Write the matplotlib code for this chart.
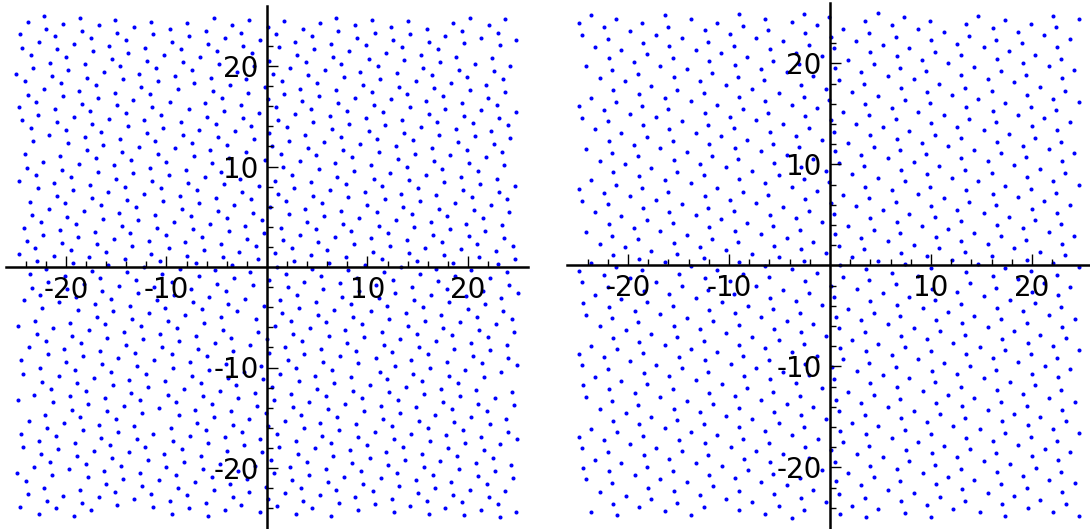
#!/usr/bin/env python3
import matplotlib
matplotlib.use("Agg")
import matplotlib.pyplot as plt

W, H = 1090, 529

# points, (x, y) in plot units, one list per quadrant
LEFT_UL = [
(-22.2,25.0),(-23.8,24.4),(-18.6,24.8),(-20.3,24.2),(-15.1,24.6),(-16.7,24.1),(-11.5,24.4),(-13.2,23.9),(-8.0,24.3),(-9.7,23.7),(-5.3,24.8),(-3.5,24.1),(-1.8,24.6),(0.1,23.9),
(-22.0,23.7),(-24.6,23.2),(-18.4,23.5),(-21.1,23.0),(-14.9,23.3),(-17.5,22.8),(-11.3,23.2),(-14.0,22.6),(-7.8,23.0),(-6.1,23.5),(-2.6,23.3),(-4.2,22.8),(-0.7,22.6),
(-22.7,22.4),(-19.2,22.2),(-15.7,22.0),(-12.1,21.8),(-9.5,22.4),(-5.9,22.2),(-2.4,22.0),(-24.4,21.8),(-20.9,21.7),(-17.3,21.5),(-13.8,21.3),(-8.6,21.7),(-5.0,21.5),(-1.5,21.3),
(-23.5,21.1),(-20.0,20.9),(-15.4,20.7),(-10.2,21.1),(-6.7,20.9),(-11.9,20.5),(-8.4,20.4),(-4.8,20.2),(-1.3,20.0),(0.2,20.5),(-21.6,20.3),(-18.1,20.2),(-14.6,20.0),(-23.3,19.8),(-19.8,19.6),(-16.2,19.4),(-11.0,19.8),(-7.5,19.6),(-12.7,19.2),(-9.2,19.0),(-5.6,18.8),(-3.0,19.4),(-2.1,18.7),
(-25.0,19.2),(-21.4,19.0),(-17.9,18.8),(-14.3,18.7),(-24.1,18.5),(-20.5,18.3),(-10.8,18.5),(-7.3,18.3),(-3.7,18.1),(-0.2,17.9),(-17.0,18.1),(-12.5,17.9),(-22.2,17.7),(-18.7,17.5),(-8.9,17.7),(-5.4,17.5),(-1.9,17.3),(-15.1,17.3),(-23.8,17.1),(-20.3,17.0),(-11.6,17.2),(-16.8,16.8),(-13.3,16.6),(-4.5,16.8),(0.1,16.7),
(-23.0,16.4),(-18.4,16.2),(-9.7,16.4),(-6.2,16.3),(-2.6,16.1),(-24.7,15.9),(-21.1,15.7),(-14.9,16.1),(-11.4,15.9),(-7.8,15.7),(-17.6,15.5),(-14.0,15.3),(-4.3,15.5),(-0.8,15.3),(-22.8,15.1),(-19.2,14.9),(-10.5,15.1),(-6.0,14.9),(-24.4,14.6),(-15.7,14.7),(-12.2,14.6),(-20.9,14.4),(-8.6,14.4),(-2.4,14.8),(-17.4,14.2),(-5.1,14.2),(-13.8,14.0),(-1.6,14.0),
(-23.5,13.8),(-20.0,13.6),(-10.3,13.8),(-6.8,13.6),(-16.5,13.4),(-11.9,13.3),(-3.2,13.5),(0.2,13.3),(-21.7,13.1),(-18.1,12.9),(-8.4,13.1),(-4.9,12.9),(-14.6,12.7),(-11.1,12.5),(-1.3,12.7),(-23.3,12.5),(-19.8,12.3),(-7.5,12.3),(-16.3,12.1),(-4.0,12.1),(-12.7,11.9),(-9.2,11.8),(-5.7,11.6),(-17.9,11.6),(-2.1,11.4),(-14.4,11.4),
(-24.1,11.2),(-20.6,11.0),(-10.8,11.2),(-7.3,11.0),(-17.0,10.8),(-3.8,10.8),(-0.2,10.6),(-13.5,10.6),(-22.3,10.4),(-10.0,10.4),(-18.7,10.2),(-5.5,10.3),(-15.2,10.1),(-23.9,9.9),(-20.4,9.7),(-11.6,9.9),(-8.1,9.7),(-16.8,9.5),(-4.6,9.5),(-13.3,9.4),(-23.0,9.2),(-19.5,9.0),(-9.8,9.2),(-6.2,9.0),(-2.7,8.8),(-15.0,8.8),
(-24.7,8.6),(-21.2,8.4),(-11.4,8.6),(-7.9,8.4),(-17.6,8.2),(-4.3,8.3),(-0.8,8.1),(-14.1,8.0),(-22.8,7.9),(-19.3,7.7),(-10.5,7.9),(-7.0,7.7),(-15.8,7.5),(-12.2,7.3),(-2.5,7.5),(-20.9,7.1),(-17.4,6.9),(-8.7,7.1),(-5.1,6.9),(-13.9,6.7),(-1.6,6.8),(-23.6,6.5),(-20.1,6.4),(-10.3,6.6),(-6.8,6.4),(-16.5,6.2),(-3.3,6.2),(-13.0,6.0),
(-21.7,5.8),(-18.2,5.6),(-8.5,5.8),(-4.9,5.6),(-14.7,5.4),(-1.4,5.4),(-23.4,5.2),(-19.9,5.0),(-11.1,5.2),(-7.6,5.1),(-16.3,4.8),(-4.0,4.9),(-0.5,4.7),(-22.5,4.5),(-19.0,4.3),(-12.8,4.7),(-9.3,4.5),(-5.7,4.3),(-14.4,4.1),(-2.2,4.1),(-24.2,3.9),(-20.6,3.7),(-10.9,3.9),(-7.4,3.8),(-17.1,3.5),(-13.6,3.4),(-3.8,3.6),(-0.3,3.4),
(-22.3,3.2),(-18.8,3.0),(-10.0,3.2),(-6.5,3.0),(-15.2,2.8),(-2.0,2.8),(-23.9,2.6),(-20.4,2.4),(-11.7,2.6),(-8.2,2.5),(-16.9,2.3),(-4.6,2.3),(-13.4,2.1),(-1.1,2.1),(-23.1,1.9),(-19.5,1.7),(-9.8,1.9),(-6.3,1.7),(-16.0,1.5),(-2.8,1.5),(-24.7,1.3),(-21.2,1.1),(-11.5,1.3),(-8.0,1.1),(-17.7,1.0),(-4.4,1.0),(-14.1,0.8),(-0.9,0.8),(-22.9,0.6),(-19.3,0.4),(-10.6,0.6),(-7.1,0.4),(-15.8,0.2),(-3.5,0.2),
]
LEFT_UR = [
(1.7,24.5),(5.3,24.3),(6.9,24.8),(10.4,24.6),(8.8,24.1),(14.0,24.5),(12.3,23.9),(18.5,24.3),(20.2,24.8),(22.1,24.1),(23.7,24.7),(3.6,23.7),(15.9,23.7),(19.4,23.5),(23.0,23.3),(0.9,23.2),(4.5,23.0),(7.1,23.5),(10.7,23.3),(14.2,23.2),(17.7,23.0),(9.0,22.8),(21.3,22.8),(24.8,22.6),
(2.8,22.4),(6.4,22.2),(12.5,22.6),(16.1,22.4),(19.6,22.3),(23.2,22.1),(9.9,22.1),(13.4,21.9),(1.2,21.9),(4.7,21.7),(17.0,21.7),(8.2,21.5),(11.8,21.3),(15.3,21.1),(3.0,21.1),(6.6,20.9),(18.8,20.9),(22.4,20.8),(10.1,20.7),(13.6,20.6),(3.9,20.4),(17.2,20.4),(20.7,20.2),(7.4,20.2),(24.2,20.0),(11.0,20.0),
(2.3,19.8),(15.5,19.8),(5.8,19.6),(19.1,19.6),(9.3,19.4),(22.6,19.5),(12.9,19.3),(0.6,19.2),(16.4,19.1),(4.1,19.1),(19.9,18.9),(7.7,18.9),(23.5,18.7),(11.2,18.7),(1.5,18.5),(14.8,18.5),(5.0,18.3),(18.3,18.3),(21.8,18.1),(9.6,18.1),(13.1,17.9),(3.3,17.7),(16.6,17.8),(6.9,17.6),(20.2,17.6),(10.4,17.4),(23.7,17.4),
(1.7,17.2),(13.9,17.2),(5.2,17.0),(17.5,17.0),(8.8,16.8),(22.0,16.8),(12.3,16.7),(3.5,16.5),(15.8,16.5),(7.1,16.3),(19.4,16.3),(22.9,16.1),(10.6,16.1),(0.9,15.9),(14.2,15.9),(4.4,15.7),(17.7,15.7),(8.0,15.5),(21.3,15.6),(24.8,15.4),(11.5,15.4),(2.8,15.2),(16.1,15.2),(6.3,15.0),(19.6,15.0),(9.9,14.8),(23.1,14.8),
(1.1,14.6),(13.4,14.6),(4.6,14.4),(16.9,14.4),(8.2,14.2),(20.5,14.3),(11.7,14.1),(24.0,14.1),(2.0,13.9),(15.3,13.9),(18.8,13.7),(6.5,13.7),(10.1,13.5),(22.3,13.5),(13.6,13.3),(3.8,13.1),(17.1,13.1),(7.4,12.9),(20.7,13.0),(10.9,12.7),(24.2,12.8),(2.2,12.5),(14.5,12.6),(5.7,12.4),(19.0,12.4),(9.3,12.2),(22.6,12.2),
(12.8,12.0),(0.5,12.0),(16.4,11.8),(4.1,11.8),(19.9,11.6),(7.6,11.6),(23.4,11.4),(11.1,11.4),(1.4,11.2),(14.7,11.2),(4.9,11.1),(18.2,11.1),(21.8,10.9),(8.5,10.9),(13.0,10.7),(3.3,10.5),(16.6,10.5),(6.8,10.3),(20.1,10.3),(10.3,10.1),(23.6,10.1),(1.6,10.0),(13.9,10.0),(5.2,9.8),(17.4,9.8),(8.7,9.6),(21.0,9.6),(12.2,9.4),(2.5,9.2),(15.8,9.2),
(7.0,9.0),(19.3,9.0),(22.9,8.8),(10.6,8.8),(0.8,8.6),(14.1,8.7),(4.4,8.5),(17.6,8.5),(7.9,8.3),(21.2,8.3),(24.7,8.1),(11.4,8.1),(2.7,7.9),(15.0,7.9),(6.3,7.7),(19.5,7.7),(9.8,7.5),(23.1,7.5),(13.3,7.3),(1.1,7.3),(4.6,7.1),(16.8,7.2),(20.4,7.0),(8.1,7.0),(11.7,6.8),(23.9,6.8),(1.9,6.6),(15.2,6.6),(5.5,6.4),(18.7,6.4),(10.0,6.2),(22.3,6.2),(13.5,6.0),(0.3,6.0),
(3.8,5.8),(17.1,5.8),(7.4,5.6),(20.6,5.7),(24.1,5.5),(10.9,5.5),(2.2,5.3),(14.4,5.3),(5.7,5.1),(17.9,5.1),(9.2,4.9),(21.5,4.9),(12.8,4.7),(4.0,4.5),(16.3,4.5),(7.6,4.3),(19.8,4.3),(23.4,4.2),(11.1,4.1),(14.6,4.0),(1.4,3.9),(4.9,3.8),(18.2,3.8),(21.7,3.6),(8.4,3.6),(12.0,3.4),
(3.3,3.2),(16.5,3.2),(6.8,3.0),(20.1,3.1),(23.6,2.9),(10.3,2.9),(1.6,2.7),(13.9,2.7),(5.1,2.5),(17.4,2.5),(8.7,2.3),(20.9,2.3),(24.5,2.1),(12.2,2.1),(2.5,1.9),(15.7,1.9),(6.0,1.7),(19.3,1.8),(22.8,1.6),(10.5,1.5),(0.8,1.4),(14.1,1.4),(4.4,1.2),(17.6,1.2),(7.9,1.0),(21.1,1.0),(24.7,0.8),(11.4,0.8),(2.7,0.6),(14.9,0.6),(6.2,0.4),(18.5,0.4),(9.8,0.2),(23.0,0.3),
]
LEFT_LL = [
(-22.0,-0.2),(-17.4,-0.4),(-12.2,0.0),(-8.7,-0.2),(-5.2,-0.3),(-23.6,-0.7),(-20.1,-0.9),(-13.9,-0.5),(-10.4,-0.7),(-16.6,-1.1),(-13.0,-1.3),(-6.8,-0.9),(-3.3,-1.1),(-1.7,-0.5),(0.2,-1.3),(-21.8,-1.5),(-18.2,-1.7),(-9.5,-1.5),(-5.0,-1.7),(-14.7,-1.9),(-11.2,-2.0),(-1.4,-1.8),(-23.4,-2.1),(-19.9,-2.2),(-7.6,-2.2),(-4.1,-2.4),(-16.4,-2.4),(-12.8,-2.6),
(-22.6,-2.8),(-19.0,-3.0),(-9.3,-2.8),(-5.8,-3.0),(-2.2,-3.2),(-15.5,-3.2),(-24.2,-3.3),(-10.9,-3.3),(-20.7,-3.5),(-7.4,-3.5),(-17.1,-3.7),(-3.9,-3.7),(-0.3,-3.9),(-13.6,-3.9),(-22.4,-4.1),(-10.1,-4.1),(-18.8,-4.3),(-6.5,-4.2),(-15.3,-4.4),(-3.0,-4.4),(-11.7,-4.6),(-8.2,-4.8),(-16.9,-5.0),(-4.6,-5.0),(-13.4,-5.2),(-1.1,-5.2),
(-23.1,-5.4),(-9.9,-5.4),(-19.6,-5.6),(-6.3,-5.6),(-16.1,-5.7),(-24.8,-5.9),(-12.5,-5.9),(-21.3,-6.1),(-9.0,-6.1),(-4.4,-6.3),(-17.7,-6.3),(-14.2,-6.5),(-0.9,-6.5),(-22.9,-6.7),(-10.6,-6.7),(-19.4,-6.9),(-7.1,-6.9),(-15.9,-7.1),(-3.6,-7.1),(-12.3,-7.2),(0.0,-7.2),(-22.0,-7.4),(-8.8,-7.4),(-18.5,-7.6),(-5.2,-7.6),(-1.7,-7.8),(-14.0,-7.8),
(-23.7,-8.0),(-10.4,-8.0),(-20.2,-8.2),(-6.9,-8.2),(-16.6,-8.4),(-3.4,-8.4),(-13.1,-8.6),(0.2,-8.6),(-21.8,-8.7),(-9.5,-8.7),(-18.3,-8.9),(-6.0,-8.9),(-14.8,-9.1),(-11.2,-9.3),(-24.5,-9.3),(-7.7,-9.5),(-20.0,-9.5),(-16.4,-9.7),(-4.1,-9.7),(-12.9,-9.9),(-0.6,-9.9),(-22.6,-10.0),(-9.4,-10.0),(-19.1,-10.2),(-5.8,-10.2),(-15.5,-10.4),(-2.3,-10.4),
(-24.3,-10.6),(-12.0,-10.6),(-20.7,-10.8),(-7.5,-10.8),(-17.2,-11.0),(-3.9,-11.0),(-13.7,-11.2),(-0.4,-11.1),(-22.4,-11.4),(-10.1,-11.3),(-18.9,-11.5),(-6.6,-11.5),(-3.1,-11.7),(-15.3,-11.7),(-11.8,-11.9),(-21.5,-12.1),(-8.3,-12.1),(-18.0,-12.3),(-4.7,-12.3),(-1.2,-12.5),(-13.5,-12.5),(-23.2,-12.7),(-9.9,-12.7),(-19.6,-12.8),(-6.4,-12.8),(-16.1,-13.0),(-2.9,-13.0),
(-24.8,-13.2),(-12.6,-13.2),(-21.3,-13.4),(-9.1,-13.4),(-17.8,-13.6),(-5.5,-13.6),(-1.0,-13.8),(-14.2,-13.8),(-10.7,-14.0),(-19.4,-14.2),(-7.2,-14.2),(-15.9,-14.3),(-3.6,-14.3),(-12.4,-14.5),(-0.1,-14.5),(-22.1,-14.7),(-8.8,-14.7),(-18.6,-14.9),(-5.3,-14.9),(-1.8,-15.1),(-15.0,-15.1),(-23.7,-15.3),(-20.2,-15.5),(-7.0,-15.5),(-16.7,-15.7),(-3.4,-15.7),(-13.2,-15.8),(0.1,-15.8),
(-21.9,-16.0),(-9.6,-16.0),(-18.3,-16.2),(-6.1,-16.2),(-14.8,-16.4),(-2.5,-16.4),(-24.5,-16.6),(-11.3,-16.6),(-21.0,-16.8),(-7.7,-16.8),(-16.5,-17.0),(-4.2,-16.9),(-12.9,-17.1),(-0.7,-17.1),(-22.7,-17.3),(-9.4,-17.3),(-19.1,-17.5),(-5.9,-17.5),(-2.3,-17.7),(-15.6,-17.7),(-24.3,-17.9),(-12.1,-17.9),(-20.8,-18.1),(-8.5,-18.1),(-17.2,-18.3),(-4.0,-18.3),(-13.7,-18.4),(-0.5,-18.4),
(-22.5,-18.6),(-10.2,-18.6),(-18.9,-18.8),(-6.6,-18.8),(-15.4,-19.0),(-11.8,-19.2),(-21.6,-19.4),(-8.3,-19.4),(-18.0,-19.6),(-4.7,-19.6),(-14.5,-19.8),(-1.2,-19.8),(-23.2,-19.9),(-10.0,-19.9),(-19.7,-20.1),(-6.4,-20.1),(-2.9,-20.3),(-16.2,-20.3),(-24.9,-20.5),(-12.6,-20.5),(-21.4,-20.7),(-9.1,-20.7),(-17.8,-20.9),(-5.5,-20.9),(-2.0,-21.1),(-14.3,-21.1),
(-24.0,-21.3),(-10.7,-21.2),(-7.2,-21.4),(-16.0,-21.6),(-3.7,-21.6),(-12.4,-21.8),(-0.1,-21.9),(-22.2,-22.0),(-8.9,-22.0),(-18.6,-22.2),(-5.3,-22.2),(-15.1,-22.4),(-1.8,-22.4),(-23.8,-22.6),(-11.5,-22.6),(-20.3,-22.8),(-8.0,-22.7),(-16.7,-22.9),(-3.4,-22.9),(-13.2,-23.1),(0.1,-23.1),
(-21.9,-23.3),(-9.7,-23.3),(-18.4,-23.5),(-6.1,-23.5),(-14.9,-23.7),(-2.6,-23.7),(-24.6,-23.9),(-11.3,-23.9),(-21.0,-24.0),(-7.8,-24.0),(-17.5,-24.2),(-4.2,-24.2),(-0.7,-24.4),(-22.7,-24.6),(-9.5,-24.6),(-19.2,-24.8),(-5.9,-24.8),
]
LEFT_LR = [
(1.0,0.0),(4.5,-0.2),(8.1,-0.3),(13.3,0.0),(16.8,-0.2),(20.3,-0.3),(1.9,-0.7),(5.4,-0.9),(11.6,-0.5),(15.2,-0.7),(18.7,-0.9),(23.9,-0.5),(9.0,-1.1),(12.5,-1.3),(22.2,-1.1),(3.7,-1.5),(7.3,-1.6),(17.0,-1.4),(24.1,-1.8),(10.8,-1.8),(2.1,-2.0),(14.4,-2.0),(5.6,-2.2),(17.9,-2.2),(21.5,-2.4),(9.2,-2.4),(12.7,-2.6),(25.0,-2.6),
(3.0,-2.8),(16.3,-2.8),(7.5,-3.0),(19.8,-2.9),(23.3,-3.1),(11.1,-3.1),(1.3,-3.3),(14.6,-3.3),(4.9,-3.5),(18.1,-3.5),(8.4,-3.7),(21.7,-3.7),(11.9,-3.9),(3.2,-4.1),(15.5,-4.0),(6.7,-4.3),(20.0,-4.2),(23.5,-4.4),(10.3,-4.4),(1.5,-4.6),(13.8,-4.6),(5.1,-4.8),(17.3,-4.8),(8.6,-5.0),(20.9,-5.0),(24.4,-5.2),(12.1,-5.2),
(2.4,-5.4),(15.7,-5.4),(5.9,-5.5),(19.2,-5.5),(22.8,-5.7),(9.5,-5.7),(0.8,-5.9),(14.0,-5.9),(4.3,-6.1),(17.5,-6.1),(7.8,-6.3),(21.1,-6.3),(24.6,-6.5),(11.4,-6.5),(2.6,-6.7),(14.9,-6.7),(6.2,-6.9),(18.4,-6.8),(9.7,-7.0),(22.0,-7.0),(13.2,-7.2),(3.5,-7.4),(16.8,-7.4),(8.0,-7.6),(20.3,-7.6),(23.9,-7.8),(11.6,-7.8),
(1.8,-8.0),(15.1,-8.0),(5.4,-8.2),(18.6,-8.2),(8.9,-8.4),(22.2,-8.3),(12.4,-8.5),(3.7,-8.7),(16.0,-8.7),(7.3,-8.9),(20.5,-8.9),(24.0,-9.1),(10.8,-9.1),(2.1,-9.3),(14.3,-9.3),(5.6,-9.5),(17.9,-9.5),(9.1,-9.6),(21.4,-9.6),(24.9,-9.8),(12.7,-9.9),(2.9,-10.0),(16.2,-10.0),(6.5,-10.2),(19.7,-10.2),(23.3,-10.4),(11.2,-10.4),
(1.3,-10.6),(14.5,-10.6),(4.8,-10.8),(18.1,-10.8),(8.4,-10.9),(21.6,-10.9),(11.9,-11.1),(3.2,-11.3),(15.4,-11.3),(6.7,-11.5),(19.0,-11.5),(10.2,-11.7),(13.8,-11.9),(0.5,-11.9),(5.0,-12.1),(17.3,-12.1),(20.8,-12.2),(8.6,-12.3),(12.1,-12.4),(24.4,-12.4),(2.4,-12.6),(15.6,-12.6),(5.9,-12.8),(19.2,-12.8),(9.5,-13.0),(22.7,-13.0),
(13.0,-13.2),(0.7,-13.2),(4.2,-13.4),(17.5,-13.4),(7.8,-13.6),(21.0,-13.6),(24.6,-13.7),(11.3,-13.8),(2.6,-13.9),(14.8,-13.9),(6.1,-14.1),(18.4,-14.1),(9.7,-14.3),(21.9,-14.3),(13.2,-14.5),(3.4,-14.7),(16.7,-14.7),(7.0,-14.9),(20.3,-14.9),(23.8,-15.1),(11.5,-15.1),(1.8,-15.3),(15.1,-15.3),(5.3,-15.5),(18.6,-15.4),(8.9,-15.6),(22.2,-15.6),(12.4,-15.8),
(3.7,-16.0),(16.0,-16.0),(7.2,-16.2),(19.5,-16.2),(10.7,-16.4),(24.0,-16.4),(1.0,-16.6),(14.3,-16.6),(5.5,-16.8),(17.8,-16.7),(9.1,-16.9),(21.3,-16.9),(24.9,-17.1),(12.6,-17.1),(2.9,-17.3),(16.2,-17.3),(6.4,-17.5),(19.7,-17.5),(10.0,-17.7),(23.2,-17.6),(1.2,-17.9),(13.5,-17.9),(4.8,-18.0),(18.0,-18.0),(8.3,-18.2),(21.6,-18.2),(11.8,-18.4),
(3.1,-18.6),(15.4,-18.6),(6.6,-18.8),(18.9,-18.8),(10.2,-19.0),(22.5,-19.0),(13.7,-19.2),(0.4,-19.2),(4.0,-19.4),(17.2,-19.3),(8.5,-19.5),(20.8,-19.5),(24.3,-19.7),(12.0,-19.7),(2.3,-19.9),(15.6,-19.9),(5.9,-20.1),(19.1,-20.1),(9.4,-20.3),(22.7,-20.3),(0.7,-20.5),(12.9,-20.5),(4.2,-20.7),(16.5,-20.7),(7.7,-20.9),(21.0,-20.8),(24.5,-21.0),(11.3,-21.0),
(2.5,-21.2),(14.8,-21.2),(6.1,-21.4),(18.3,-21.4),(9.6,-21.6),(21.9,-21.6),(13.1,-21.8),(3.4,-22.0),(16.7,-22.0),(6.9,-22.2),(20.2,-22.2),(23.7,-22.3),(10.5,-22.3),(1.8,-22.5),(15.0,-22.5),(5.3,-22.7),(18.5,-22.7),(22.1,-22.9),(8.8,-22.9),(12.4,-23.1),(3.6,-23.3),(15.9,-23.3),(7.2,-23.5),(19.4,-23.4),(23.0,-23.6),(10.7,-23.6),
(1.0,-23.8),(14.2,-23.8),(4.5,-24.0),(17.7,-24.0),(9.1,-24.2),(21.3,-24.2),(24.8,-24.4),(12.6,-24.4),(2.9,-24.6),(16.1,-24.6),(6.4,-24.8),(19.6,-24.7),(23.2,-24.9),
]
RIGHT_UL = [
(-24.9,24.0),(-23.7,24.8),(-21.2,24.4),(-22.4,23.6),(-18.6,24.0),(-16.3,24.8),(-16.0,23.6),(-13.8,24.4),(-11.2,24.0),(-9.0,24.9),(-8.6,23.7),(-6.4,24.4),(-3.8,24.1),(-2.6,24.9),(-1.3,23.8),(-0.1,24.6),(-19.8,23.2),(-12.4,23.3),(-6.1,23.3),(-24.6,22.8),(-17.2,22.8),(-9.9,22.9),(-2.5,23.0),(-22.0,22.4),(-14.7,22.5),(-7.3,22.5),(-18.5,22.0),(-12.1,22.1),(-4.7,22.2),
(-23.3,21.6),(-15.9,21.7),(-9.5,21.7),(-2.1,21.8),(-20.7,21.3),(-13.3,21.3),(-5.9,21.4),(-18.1,20.9),(-10.8,21.0),(-3.4,21.0),(-21.9,20.5),(-15.5,20.5),(-8.2,20.6),(-0.8,20.7),(-19.4,20.1),(-12.0,20.2),(-5.6,20.2),(-24.2,19.7),(-16.8,19.7),(-9.4,19.8),(-3.1,19.9),(-21.6,19.3),(-14.2,19.4),(-6.8,19.4),(-19.0,18.9),(-11.7,19.0),(-4.3,19.1),
(-22.8,18.5),(-15.4,18.6),(-9.1,18.6),(-1.7,18.7),(-20.3,18.2),(-12.9,18.2),(-6.5,18.3),(-17.7,17.8),(-10.3,17.9),(-2.9,17.9),(-21.5,17.4),(-15.1,17.4),(-7.7,17.5),(-0.4,17.5),(-18.9,17.0),(-12.5,17.1),(-5.1,17.1),(-23.7,16.6),(-16.3,16.6),(-9.0,16.7),(-2.6,16.7),(-21.2,16.2),(-13.8,16.3),(-6.4,16.3),(-0.1,16.4),
(-24.9,15.8),(-18.6,15.8),(-11.2,15.9),(-3.8,15.9),(-22.4,15.4),(-16.0,15.5),(-8.6,15.5),(-1.3,15.6),(-19.8,15.0),(-12.4,15.1),(-6.1,15.1),(-24.6,14.6),(-17.2,14.7),(-9.9,14.7),(-2.5,14.8),(-22.0,14.3),(-14.7,14.3),(-7.3,14.4),(-18.5,13.9),(-12.1,13.9),(-4.7,14.0),(-23.3,13.5),(-15.9,13.5),(-9.5,13.6),(-2.1,13.6),
(-20.7,13.1),(-13.3,13.1),(-5.9,13.2),(-18.1,12.7),(-10.8,12.8),(-3.4,12.8),(-21.9,12.3),(-15.5,12.3),(-8.2,12.4),(-0.8,12.4),(-19.4,11.9),(-12.0,12.0),(-5.6,12.0),(-24.2,11.5),(-16.8,11.6),(-9.4,11.6),(-3.1,11.7),(-21.6,11.1),(-14.2,11.2),(-6.8,11.3),(-19.0,10.8),(-11.7,10.8),(-4.3,10.9),(-22.8,10.3),(-15.4,10.4),(-9.1,10.5),(-1.7,10.5),
(-20.3,10.0),(-12.9,10.0),(-5.5,10.1),(-17.7,9.6),(-10.3,9.7),(-2.9,9.7),(-21.5,9.2),(-15.1,9.2),(-7.7,9.3),(-0.4,9.3),(-18.9,8.8),(-12.5,8.9),(-5.1,8.9),(-23.7,8.4),(-16.3,8.4),(-9.0,8.5),(-2.6,8.5),(-21.2,8.0),(-13.8,8.1),(-6.4,8.1),(-0.1,8.2),(-24.9,7.6),(-18.6,7.7),(-11.2,7.7),(-3.8,7.8),(-22.4,7.2),(-16.0,7.3),(-8.6,7.3),(-1.3,7.4),
(-19.8,6.9),(-12.4,6.9),(-6.1,7.0),(-24.6,6.4),(-17.2,6.5),(-9.9,6.5),(-2.5,6.6),(-22.0,6.1),(-14.7,6.1),(-7.3,6.2),(-18.5,5.7),(-12.1,5.7),(-4.7,5.8),(-23.3,5.3),(-15.9,5.3),(-9.5,5.4),(-2.1,5.4),(-20.7,4.9),(-13.3,5.0),(-5.9,5.0),(-18.1,4.5),(-10.8,4.6),(-3.4,4.7),(-21.9,4.1),(-15.5,4.2),(-8.2,4.2),(-0.8,4.3),
(-19.4,3.7),(-12.0,3.8),(-5.6,3.9),(-24.2,3.3),(-16.8,3.4),(-9.4,3.4),(-3.0,3.5),(-21.6,2.9),(-14.2,3.0),(-6.8,3.1),(-19.0,2.6),(-11.7,2.6),(-4.3,2.7),(-22.8,2.1),(-15.4,2.2),(-9.1,2.3),(-1.7,2.3),(-20.3,1.8),(-12.9,1.8),(-5.5,1.9),(-17.7,1.4),(-10.3,1.5),(-2.9,1.6),(-21.5,1.0),(-15.1,1.1),(-7.7,1.1),(-0.4,1.2),
(-18.9,0.6),(-12.5,0.7),(-5.1,0.8),(-23.7,0.2),(-16.3,0.3),(-9.0,0.3),(-2.6,0.4),(-21.2,-0.2),(-13.8,-0.1),(-6.4,-0.1),
]
RIGHT_UR = [
(0.1,22.6),(0.4,21.5),(0.5,19.5),(0.9,18.3),(0.1,14.4),(0.4,13.2),(0.1,6.2),(0.4,5.1),
(4.8,25.0),(3.5,24.2),(7.3,24.6),(14.7,24.7),(22.1,24.7),(9.9,24.2),(17.3,24.3),(24.7,24.4),(6.1,23.8),(13.5,23.9),(19.9,23.9),(1.3,23.4),(8.7,23.4),(16.1,23.5),(22.4,23.6),(3.9,23.0),(11.3,23.1),(18.6,23.1),(6.5,22.6),(13.8,22.7),(21.2,22.8),(2.6,22.2),(10.0,22.3),(16.4,22.3),(23.8,22.4),
(5.2,21.8),(12.6,21.9),(19.0,22.0),(7.8,21.5),(15.2,21.6),(22.5,21.6),(4.0,21.1),(10.4,21.1),(17.7,21.2),(6.6,20.7),(13.0,20.8),(20.3,20.8),(1.8,20.3),(9.1,20.3),(16.5,20.4),(22.9,20.4),(4.4,19.9),(11.7,20.0),(19.1,20.0),(6.9,19.5),(14.3,19.6),(21.7,19.7),(3.1,19.1),(9.5,19.2),(16.9,19.2),(24.2,19.3),
(5.7,18.7),(13.0,18.8),(19.4,18.8),(8.3,18.4),(15.6,18.4),(23.0,18.5),(3.4,18.0),(10.8,18.0),(18.2,18.1),(7.0,17.6),(13.4,17.6),(20.8,17.7),(2.2,17.2),(9.6,17.2),(16.0,17.3),(23.3,17.3),(4.8,16.8),(12.1,16.9),(19.5,16.9),(7.4,16.4),(14.7,16.5),(22.1,16.5),
(3.5,16.0),(9.9,16.1),(17.3,16.1),(24.7,16.2),(6.1,15.6),(13.5,15.7),(19.9,15.7),(1.3,15.2),(8.7,15.2),(16.1,15.3),(22.4,15.4),(3.9,14.9),(11.3,14.9),(18.6,14.9),(6.5,14.5),(13.8,14.5),(21.2,14.6),(2.6,14.0),(10.0,14.1),(16.4,14.2),(23.8,14.2),(5.2,13.7),(12.6,13.7),(20.0,13.8),(7.8,13.3),(15.2,13.4),(22.5,13.4),
(4.0,12.9),(10.4,12.9),(17.7,13.0),(6.6,12.5),(13.0,12.6),(20.3,12.6),(1.8,12.1),(9.1,12.1),(16.5,12.2),(22.9,12.2),(4.4,11.7),(11.7,11.8),(19.1,11.8),(0.5,11.3),(6.9,11.4),(14.3,11.4),(21.7,11.5),(3.1,10.9),(9.5,11.0),(16.9,11.1),(24.2,11.1),(5.7,10.6),(13.0,10.6),(19.4,10.7),(0.9,10.1),(8.3,10.2),(15.6,10.3),(23.0,10.3),
(3.4,9.8),(10.8,9.8),(18.2,9.9),(7.0,9.4),(13.4,9.4),(20.8,9.5),(2.2,9.0),(9.6,9.0),(16.0,9.1),(23.3,9.1),(4.8,8.6),(12.1,8.6),(19.5,8.7),(7.4,8.3),(14.7,8.3),(22.1,8.3),(3.5,7.8),(9.9,7.8),(17.3,7.9),(24.7,8.0),(6.1,7.5),(13.5,7.5),(19.9,7.6),(1.3,7.0),(8.7,7.1),(16.1,7.1),(22.4,7.2),
(3.9,6.7),(11.3,6.7),(18.6,6.8),(6.5,6.3),(13.8,6.3),(21.2,6.4),(2.6,5.9),(10.0,5.9),(16.4,6.0),(23.8,6.0),(5.2,5.5),(12.6,5.5),(20.0,5.6),(7.8,5.1),(15.2,5.2),(22.5,5.2),(4.0,4.7),(10.4,4.8),(17.7,4.8),(6.6,4.3),(13.0,4.4),(20.3,4.5),(1.8,3.9),(9.1,3.9),(16.5,4.0),(22.9,4.1),
(4.4,3.5),(11.7,3.6),(19.1,3.7),(0.5,3.1),(6.9,3.2),(14.3,3.2),(21.7,3.3),(3.1,2.7),(10.5,2.8),(16.9,2.9),(24.2,2.9),(5.7,2.4),(13.0,2.4),(19.4,2.5),(0.9,1.9),(8.3,2.0),(15.6,2.1),(23.0,2.1),(3.4,1.6),(10.8,1.7),(18.2,1.7),(7.0,1.2),(13.4,1.3),(20.8,1.3),(2.2,0.8),(9.6,0.9),(16.0,0.9),(23.3,1.0),(4.8,0.4),(12.1,0.5),(19.5,0.5),(1.0,0.0),(7.4,0.1),(14.7,0.1),(22.1,0.2),
]
RIGHT_LL = [
(-24.9,-0.6),(-22.4,-1.0),(-18.6,-0.5),(-15.0,-0.9),(-11.2,-0.5),(-8.6,-0.9),(-3.8,-0.4),(-1.3,-0.8),(-12.4,-1.3),(-6.0,-1.2),(-19.8,-1.3),(-24.6,-1.7),(-17.2,-1.7),(-9.9,-1.6),(-2.5,-1.6),(-22.0,-2.1),(-14.7,-2.0),(-7.3,-2.0),(-18.4,-2.5),(-12.1,-2.4),(-4.7,-2.4),(-23.3,-2.9),(-15.9,-2.8),(-9.5,-2.8),(-2.1,-2.7),(-20.7,-3.3),(-13.3,-3.2),(-5.9,-3.2),
(-18.1,-3.6),(-10.7,-3.6),(-3.4,-3.5),(-24.5,-3.7),(-21.9,-4.1),(-15.5,-4.0),(-8.1,-4.0),(-0.8,-3.9),(-19.3,-4.5),(-12.0,-4.4),(-5.6,-4.3),(-24.2,-4.9),(-16.8,-4.8),(-9.4,-4.7),(-3.0,-4.7),(-21.6,-5.2),(-14.2,-5.2),(-6.8,-5.1),(-19.0,-5.6),(-11.6,-5.5),(-4.3,-5.5),(-22.8,-6.0),(-15.4,-6.0),(-9.0,-5.9),(-1.7,-5.8),
(-20.2,-6.4),(-12.9,-6.3),(-5.5,-6.3),(-17.7,-6.8),(-10.3,-6.7),(-2.9,-6.6),(-21.5,-7.2),(-15.1,-7.1),(-7.7,-7.1),(-0.4,-7.0),(-18.9,-7.6),(-12.5,-7.5),(-5.1,-7.4),(-23.7,-8.0),(-16.3,-7.9),(-9.0,-7.9),(-2.6,-7.8),(-21.1,-8.3),(-13.8,-8.3),(-6.4,-8.2),(-18.5,-8.7),(-11.2,-8.6),(-3.8,-8.6),(-24.9,-8.8),
(-22.4,-9.1),(-15.0,-9.1),(-8.6,-9.0),(-1.3,-9.0),(-19.8,-9.5),(-12.4,-9.4),(-6.0,-9.4),(-24.6,-9.9),(-17.2,-9.9),(-9.8,-9.8),(-2.5,-9.8),(-22.0,-10.3),(-14.7,-10.2),(-7.3,-10.2),(-18.4,-10.7),(-12.1,-10.6),(-4.7,-10.6),(-23.3,-11.1),(-15.9,-11.0),(-8.5,-11.0),(-2.1,-10.9),(-20.7,-11.5),(-13.3,-11.4),(-5.9,-11.3),
(-18.1,-11.8),(-10.7,-11.8),(-3.4,-11.7),(-24.5,-11.9),(-21.9,-12.2),(-15.5,-12.2),(-8.2,-12.1),(-0.8,-12.1),(-19.3,-12.6),(-12.0,-12.6),(-5.6,-12.5),(-24.2,-13.0),(-16.8,-13.0),(-9.4,-12.9),(-3.0,-12.9),(-21.6,-13.4),(-14.2,-13.4),(-6.8,-13.3),(-19.0,-13.8),(-11.6,-13.7),(-4.3,-13.7),(-22.8,-14.2),(-15.4,-14.2),(-9.0,-14.1),(-1.7,-14.0),
(-20.2,-14.6),(-12.9,-14.5),(-5.5,-14.5),(-17.7,-15.0),(-10.3,-14.9),(-2.9,-14.8),(-21.5,-15.4),(-15.1,-15.3),(-7.7,-15.2),(-0.4,-15.2),(-18.9,-15.7),(-12.5,-15.7),(-5.1,-15.6),(-23.7,-16.2),(-16.3,-16.1),(-9.0,-16.0),(-2.6,-16.0),(-21.1,-16.5),(-13.8,-16.5),(-6.4,-16.4),(-24.9,-17.0),(-18.5,-16.9),(-11.2,-16.8),(-3.8,-16.8),
(-22.4,-17.3),(-15.0,-17.3),(-8.6,-17.2),(-1.2,-17.2),(-19.8,-17.7),(-12.4,-17.6),(-6.0,-17.6),(-24.6,-18.1),(-17.2,-18.1),(-9.8,-18.0),(-2.5,-18.0),(-22.0,-18.5),(-14.7,-18.4),(-7.3,-18.4),(-18.4,-18.8),(-12.1,-18.8),(-4.7,-18.7),(-23.3,-19.3),(-15.9,-19.2),(-8.5,-19.2),(-2.1,-19.1),(-20.7,-19.6),(-13.3,-19.6),(-5.9,-19.5),
(-18.1,-20.0),(-10.7,-19.9),(-24.5,-20.1),(-21.9,-20.4),(-15.5,-20.4),(-8.1,-20.3),(-0.8,-20.3),(-19.3,-20.8),(-12.0,-20.8),(-5.6,-20.7),(-24.2,-21.2),(-16.8,-21.2),(-9.4,-21.1),(-3.0,-21.1),(-21.6,-21.6),(-14.2,-21.5),(-6.8,-21.5),(-18.0,-22.0),(-11.6,-21.9),(-4.3,-21.8),(-22.8,-22.4),(-15.4,-22.3),(-9.0,-22.3),(-1.7,-22.2),
(-20.2,-22.8),(-12.9,-22.7),(-5.5,-22.6),(-17.7,-23.1),(-10.3,-23.1),(-2.9,-23.0),(-21.5,-23.6),(-15.1,-23.5),(-7.7,-23.4),(-0.4,-23.4),(-18.9,-23.9),(-12.5,-23.9),(-5.1,-23.8),(-23.7,-24.4),(-16.3,-24.3),(-9.0,-24.2),(-2.6,-24.2),(-21.1,-24.7),(-13.8,-24.7),(-6.4,-24.6),(-3.8,-25.0),
]
RIGHT_LR = [
(0.1,-2.0),(0.2,-10.1),(0.1,-18.3),
(3.6,-0.4),(10.0,-0.3),(17.3,-0.3),(24.7,-0.2),(6.1,-0.8),(13.5,-0.7),(19.9,-0.6),(1.3,-1.2),(8.7,-1.1),(16.1,-1.1),(22.5,-1.0),(3.9,-1.5),(18.6,-1.4),(6.5,-1.9),(13.9,-1.8),(21.2,-1.8),(2.7,-2.3),(10.1,-2.3),(16.4,-2.2),(23.8,-2.1),(5.2,-2.7),(12.6,-2.6),(20.0,-2.6),(0.4,-3.1),(7.8,-3.1),(15.2,-3.0),(22.6,-2.9),
(4.0,-3.5),(10.4,-3.4),(17.8,-3.4),(6.6,-3.9),(13.0,-3.8),(20.3,-3.7),(1.8,-4.3),(9.2,-4.2),(16.5,-4.2),(22.9,-4.1),(4.4,-4.7),(11.7,-4.6),(19.1,-4.5),(0.6,-5.1),(6.9,-5.0),(14.3,-5.0),(21.7,-4.9),(3.1,-5.4),(10.5,-5.4),(16.9,-5.3),(24.3,-5.3),(5.7,-5.8),(13.1,-5.7),(19.5,-5.7),
(0.9,-6.2),(8.3,-6.2),(15.6,-6.1),(23.0,-6.1),(3.5,-6.6),(10.9,-6.5),(18.2,-6.5),(7.0,-7.0),(13.4,-6.9),(20.8,-6.9),(2.2,-7.4),(9.6,-7.3),(17.0,-7.3),(23.4,-7.2),(4.8,-7.8),(12.2,-7.7),(19.6,-7.7),(7.4,-8.1),(14.8,-8.1),(22.1,-8.0),(1.0,-8.2),
(3.6,-8.5),(10.0,-8.5),(17.3,-8.4),(24.7,-8.4),(6.1,-8.9),(13.5,-8.8),(19.9,-8.8),(1.3,-9.3),(8.7,-9.3),(16.1,-9.2),(22.5,-9.2),(3.9,-9.7),(11.3,-9.7),(18.6,-9.6),(6.5,-10.1),(13.9,-10.0),(21.3,-10.0),(2.7,-10.5),(10.1,-10.5),(16.4,-10.4),(23.8,-10.3),(5.2,-10.9),(12.6,-10.8),(20.0,-10.8),(0.4,-11.3),(7.8,-11.2),(15.2,-11.2),(22.6,-11.1),
(4.0,-11.7),(10.4,-11.6),(17.8,-11.6),(6.6,-12.0),(13.0,-12.0),(20.3,-11.9),(1.8,-12.5),(9.2,-12.4),(16.5,-12.3),(22.9,-12.3),(4.4,-12.8),(11.7,-12.8),(19.1,-12.7),(0.6,-13.3),(6.9,-13.2),(14.3,-13.1),(21.7,-13.1),(3.1,-13.6),(10.5,-13.6),(16.9,-13.5),(24.3,-13.5),(5.7,-14.0),(13.1,-13.9),(19.5,-13.9),
(0.9,-14.4),(8.3,-14.4),(15.6,-14.3),(23.0,-14.3),(3.5,-14.8),(10.9,-14.7),(18.2,-14.7),(7.0,-15.1),(13.4,-15.1),(20.8,-15.0),(2.2,-15.6),(9.6,-15.5),(17.0,-15.4),(23.4,-15.4),(4.8,-15.9),(12.2,-15.9),(19.6,-15.8),(7.4,-16.3),(14.8,-16.2),(22.1,-16.2),(1.0,-16.4),
(3.6,-16.7),(10.0,-16.7),(17.3,-16.6),(24.7,-16.6),(6.1,-17.1),(13.5,-17.1),(19.9,-17.0),(1.3,-17.5),(8.7,-17.5),(16.1,-17.4),(22.5,-17.4),(3.9,-17.9),(11.3,-17.9),(18.6,-17.8),(7.5,-18.3),(13.9,-18.2),(21.3,-18.2),(2.7,-18.7),(10.1,-18.6),(16.4,-18.6),(23.8,-18.5),(5.2,-19.0),(12.6,-19.0),(20.0,-18.9),(0.5,-19.5),(7.8,-19.4),(15.2,-19.4),(22.6,-19.3),
(4.0,-19.9),(10.4,-19.8),(17.8,-19.7),(6.6,-20.2),(13.0,-20.2),(20.4,-20.1),(1.8,-20.6),(9.2,-20.6),(16.5,-20.5),(22.9,-20.5),(4.4,-21.0),(11.7,-21.0),(19.1,-20.9),(0.6,-21.4),(6.9,-21.4),(14.3,-21.3),(21.7,-21.3),(3.1,-21.8),(10.5,-21.7),(16.9,-21.7),(24.3,-21.6),(5.7,-22.2),(13.1,-22.1),(19.5,-22.0),
(0.9,-22.6),(8.3,-22.5),(15.6,-22.5),(23.0,-22.4),(3.5,-23.0),(10.9,-22.9),(18.2,-22.8),(7.0,-23.3),(13.4,-23.3),(20.8,-23.2),(2.2,-23.8),(9.6,-23.7),(17.0,-23.6),(23.4,-23.6),(4.8,-24.1),(12.2,-24.1),(19.6,-24.0),(7.4,-24.5),(14.8,-24.4),(22.1,-24.4),(1.0,-24.6),(3.6,-24.9),(10.0,-24.9),(17.3,-24.8),(24.7,-24.8),
]
TICKS = [t for t in range(-24, 24, 2) if t != 0]
LABELED = [-20, -10, 10, 20]


def make_axes(fig, box, xlim, ylim, points):
    ax = fig.add_axes([box[0] / W, 1 - box[3] / H, (box[2] - box[0]) / W, (box[3] - box[1]) / H])
    ax.set_xlim(*xlim)
    ax.set_ylim(*ylim)
    ax.patch.set_visible(False)
    ax.scatter([p[0] for p in points], [p[1] for p in points], s=8.5, color="#0000ff", linewidths=0, clip_on=False)
    for side in ("top", "right"):
        ax.spines[side].set_visible(False)
    for side in ("left", "bottom"):
        ax.spines[side].set_position("zero")
        ax.spines[side].set_linewidth(1.8)
    ax.set_xticks(LABELED)
    ax.set_yticks(LABELED)
    ax.set_xticks(TICKS, minor=True)
    ax.set_yticks(TICKS, minor=True)
    ax.tick_params(which="major", direction="in", length=8, width=1.0, labelsize=20, pad=6.5)
    ax.tick_params(which="minor", direction="in", length=4, width=1.0)
    ax.tick_params(axis="y", which="major", pad=6)
    ax.set_xticklabels([str(t) for t in LABELED])
    ax.set_yticklabels([str(t) for t in LABELED])


fig = plt.figure(figsize=(W / 100, H / 100), dpi=100)
make_axes(fig, (5.7, 5.7, 528.3, 528.3), (-26, 26), (-26, 26), LEFT_UL + LEFT_UR + LEFT_LL + LEFT_LR)
make_axes(fig, (567.4, 2.7, 1089.6, 527.9), (-26, 25.7), (-26, 26), RIGHT_UL + RIGHT_UR + RIGHT_LL + RIGHT_LR)
fig.savefig("out.png", dpi=100)
